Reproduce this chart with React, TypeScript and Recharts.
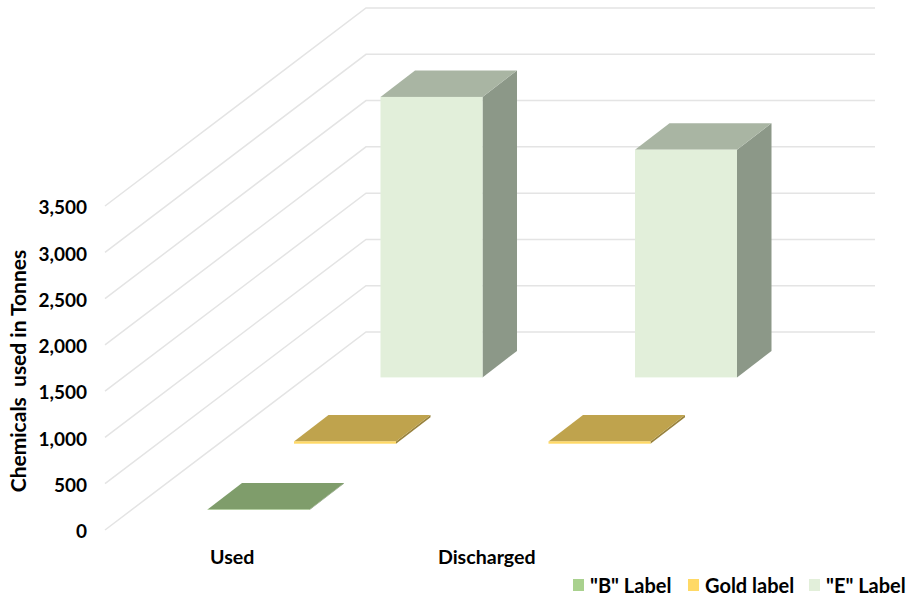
import { Bar, BarChart, CartesianGrid, Legend, XAxis, YAxis } from "recharts";

const categories = ["Used", "Discharged"];
const bLabelValues = [5, null];
const goldLabelValues = [25, 25];
const eLabelValues = [3030, 2460];
const valueTicks = [0, 500, 1000, 1500, 2000, 2500, 3000, 3500];

const chartData = categories.map((name, i) => ({
  name,
  b: bLabelValues[i],
  gold: goldLabelValues[i],
  e: eLabelValues[i],
}));

const FONT = "Lato, sans-serif";
const BAR_WIDTH = 102;

// floor and wall projection: how far the back wall sits from the front plane
const WALL_DX = 261;
const WALL_DY = 198;
const WALL_RIGHT = 875;

// each series stands in its own row on the floor
const ROW_DX = 86.5;
const ROW_DY = 66.3;
const FIRST_ROW_DX = 26.5;
const FIRST_ROW_DY = 20;
const BOX_DX = 34.5;
const BOX_DY = 26.5;

type Faces = { front: string; top: string; side: string };

const bFaces: Faces = { front: "#A9D18E", top: "#7F9D6B", side: "#657D55" };
const goldFaces: Faces = { front: "#FFD966", top: "#BFA34D", side: "#98823D" };
const eFaces: Faces = { front: "#E2EFDA", top: "#A9B5A3", side: "#8C9888" };

function makeBox(row: number, faces: Faces) {
  return function Box(props: any) {
    const { x, y, width, height } = props;
    if (props.value == null) {
      return null;
    }

    const left = x + FIRST_ROW_DX + row * ROW_DX;
    const right = left + width;
    const top = y - FIRST_ROW_DY - row * ROW_DY;
    const bottom = top + height;

    return (
      <g>
        <polygon
          fill={faces.side}
          points={`${right},${top} ${right + BOX_DX},${top - BOX_DY} ${right + BOX_DX},${bottom - BOX_DY} ${right},${bottom}`}
        />
        <polygon
          fill={faces.top}
          points={`${left},${top} ${left + BOX_DX},${top - BOX_DY} ${right + BOX_DX},${top - BOX_DY} ${right},${top}`}
        />
        <rect fill={faces.front} x={left} y={top} width={width} height={height} />
      </g>
    );
  };
}

// gridline runs across the floor to the wall, then along the wall
function wallLine(props: any) {
  const { x1, y1, index } = props;
  const wallX = x1 + WALL_DX;
  const wallY = y1 - WALL_DY;

  return (
    <polyline
      key={index}
      fill="none"
      stroke="#E4E4E4"
      strokeWidth={1.5}
      points={`${x1},${y1} ${wallX},${wallY} ${WALL_RIGHT},${wallY}`}
    />
  );
}

function ChartLegend({ payload }: any) {
  const lefts = [573, 688, 809];

  return (
    <div style={{ position: "relative", width: 337, height: 24 }}>
      {(payload ?? []).map((entry: any, i: number) => (
        <div
          key={entry.value}
          style={{
            position: "absolute",
            left: lefts[i] - 573,
            top: 0,
            display: "flex",
            alignItems: "center",
            whiteSpace: "nowrap",
            fontFamily: FONT,
            fontWeight: 700,
            fontSize: 20,
            lineHeight: "24px",
            color: "#000",
          }}
        >
          <span
            style={{
              display: "inline-block",
              width: 11,
              height: 12,
              marginRight: 6,
              background: entry.color,
            }}
          />
          {entry.value}
        </div>
      ))}
    </div>
  );
}

export default function App() {
  return (
    <div style={{ position: "absolute", left: 0, top: 0, background: "#fff" }}>
      <BarChart
        width={910}
        height={598}
        data={chartData}
        margin={{ top: 206, right: 296, bottom: 0, left: 0 }}
        barSize={BAR_WIDTH}
        barGap={-BAR_WIDTH}
      >
        <CartesianGrid vertical={false} horizontal={wallLine} />
        <XAxis
          dataKey="name"
          height={68}
          axisLine={false}
          tickLine={false}
          tickMargin={14}
          tick={{ fill: "#000", fontFamily: FONT, fontWeight: 700, fontSize: 19.6 }}
        />
        <YAxis
          width={105}
          domain={[0, 3500]}
          ticks={valueTicks}
          interval={0}
          axisLine={false}
          tickLine={false}
          tickMargin={12}
          tickFormatter={(value: number) => value.toLocaleString("en-US")}
          tick={{ fill: "#000", fontFamily: FONT, fontWeight: 700, fontSize: 19, dy: 1.5 }}
          label={{
            value: "Chemicals\u00A0 used in Tonnes",
            angle: -90,
            position: "insideLeft",
            offset: 19,
            dy: 3,
            style: {
              fill: "#000",
              fontFamily: FONT,
              fontWeight: 700,
              fontSize: 21,
              textAnchor: "middle",
            },
          }}
        />
        <Bar dataKey="b" name={'"B" Label'} fill={bFaces.front} isAnimationActive={false} shape={makeBox(0, bFaces)} />
        <Bar dataKey="gold" name="Gold label" fill={goldFaces.front} isAnimationActive={false} shape={makeBox(1, goldFaces)} />
        <Bar dataKey="e" name={'"E" Label'} fill={eFaces.front} isAnimationActive={false} shape={makeBox(2, eFaces)} />
        <Legend
          verticalAlign="middle"
          itemSorter={null}
          content={<ChartLegend />}
          wrapperStyle={{ position: "absolute", left: 573, top: 573, width: 337, height: 24 }}
        />
      </BarChart>
    </div>
  );
}
